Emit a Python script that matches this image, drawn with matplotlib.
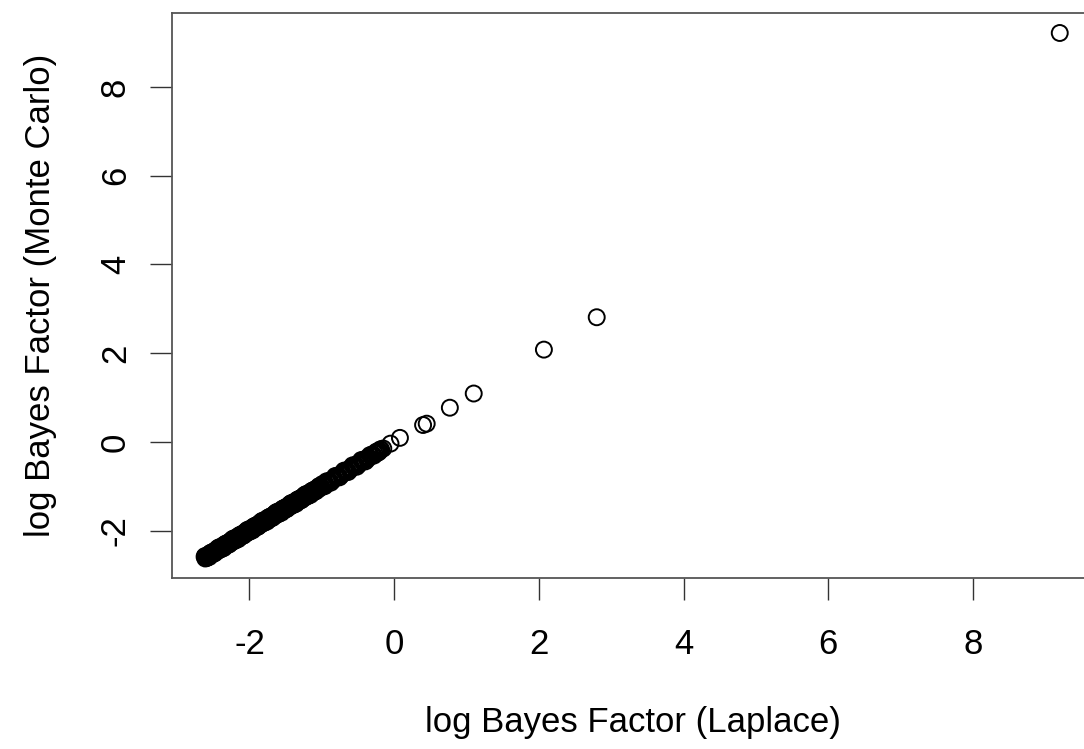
import matplotlib
matplotlib.use("Agg")
from matplotlib import pyplot as plt

plt.rcParams['font.family'] = ['Liberation Sans', 'DejaVu Sans']

# log Bayes factors (Laplace approx vs Monte Carlo)
laplace = [
    -2.62, -2.61, -2.60, -2.59, -2.58, -2.57, -2.56, -2.55, -2.54, -2.53,
    -2.52, -2.51, -2.50, -2.49, -2.48, -2.47, -2.46, -2.45, -2.44, -2.43,
    -2.42, -2.41, -2.40, -2.39, -2.38, -2.37, -2.36, -2.35, -2.34, -2.33,
    -2.32, -2.31, -2.30, -2.29, -2.28, -2.27, -2.26, -2.25, -2.24, -2.23,
    -2.22, -2.21, -2.20, -2.19, -2.18, -2.17, -2.16, -2.15, -2.14, -2.13,
    -2.12, -2.11, -2.10, -2.09, -2.08, -2.07, -2.06, -2.05, -2.04, -2.03,
    -2.02, -2.01, -2.00, -1.99, -1.98, -1.97, -1.96, -1.95, -1.94, -1.93,
    -1.92, -1.91, -1.90, -1.89, -1.88, -1.87, -1.86, -1.85, -1.84, -1.83,
    -1.82, -1.81, -1.80, -1.79, -1.78, -1.77, -1.76, -1.75, -1.74, -1.73,
    -1.72, -1.71, -1.70, -1.69, -1.68, -1.67, -1.66, -1.65, -1.64, -1.63,
    -1.62, -1.61, -1.60, -1.59, -1.58, -1.57, -1.56, -1.55, -1.54, -1.53,
    -1.52, -1.51, -1.50, -1.49, -1.48, -1.47, -1.46, -1.45, -1.44, -1.43,
    -1.42, -1.41, -1.40, -1.39, -1.38, -1.37, -1.36, -1.35, -1.34, -1.33,
    -1.32, -1.31, -1.30, -1.29, -1.28, -1.27, -1.26, -1.25, -1.24, -1.23,
    -1.22, -1.21, -1.20, -1.19, -1.18, -1.17, -1.16, -1.15, -1.14, -1.13,
    -1.12, -1.11, -1.10, -1.09, -1.08, -1.07, -1.06, -1.05, -1.04, -1.03,
    -2.615, -2.595, -2.575, -2.555, -2.535, -2.515, -2.495, -2.475, -2.455, -2.435,
    -2.415, -2.395, -2.375, -2.355, -2.335, -2.315, -2.295, -2.275, -2.255, -2.235,
    -2.215, -2.195, -2.175, -2.155, -2.135, -2.115, -2.095, -2.075, -2.055, -2.035,
    -2.015, -1.995, -1.975, -1.955, -1.935, -1.915, -1.895, -1.875, -1.855, -1.835,
    -1.815, -1.795, -1.775, -1.755, -1.735, -1.715, -1.695, -1.675, -1.655, -1.635,
    -1.615, -1.595, -1.575, -1.555, -1.535, -1.515, -1.495, -1.475, -1.455, -1.435,
    -1.415, -1.395, -1.375, -1.355, -1.335, -1.315, -1.295, -1.275, -1.255, -1.235,
    -1.215, -1.195, -1.175, -1.155, -1.135, -1.115, -1.095, -1.075, -1.055, -1.035,
    -1.02, -1.00, -0.98, -0.95, -0.92, -0.89, -0.86, -0.83, -0.80, -0.77,
    -0.74, -0.71, -0.68, -0.65, -0.62, -0.59, -0.56, -0.53, -0.50, -0.47,
    -0.44, -0.41, -0.38, -0.35, -0.32, -0.29, -0.27, -0.25, -0.22, -0.20,
    -0.965, -0.905, -0.845, -0.785, -0.725, -0.665, -0.605, -0.545, -0.485, -0.425,
    -0.365, -0.305, -0.235, -0.19,
    -0.99, -0.96, -0.935, -0.875, -0.815, -0.755, -0.695, -0.635, -0.575, -0.515,
    -0.455, -0.395, -0.335, -0.28, -0.245, -0.21,
    -0.18, -0.15, -0.05, 0.08, 0.40, 0.45, 0.77, 1.10, 2.07, 2.80,
    9.20,
]
montecarlo = [
    -2.59, -2.63, -2.59, -2.62, -2.56, -2.57, -2.57, -2.52, -2.56, -2.52,
    -2.49, -2.53, -2.49, -2.52, -2.46, -2.47, -2.47, -2.42, -2.46, -2.42,
    -2.39, -2.43, -2.39, -2.42, -2.36, -2.37, -2.37, -2.32, -2.36, -2.32,
    -2.29, -2.33, -2.29, -2.32, -2.26, -2.27, -2.27, -2.22, -2.26, -2.22,
    -2.19, -2.23, -2.19, -2.22, -2.16, -2.17, -2.17, -2.12, -2.16, -2.12,
    -2.09, -2.13, -2.09, -2.12, -2.06, -2.07, -2.07, -2.02, -2.06, -2.02,
    -1.99, -2.03, -1.99, -2.02, -1.96, -1.97, -1.97, -1.92, -1.96, -1.92,
    -1.89, -1.93, -1.89, -1.92, -1.86, -1.87, -1.87, -1.82, -1.86, -1.82,
    -1.79, -1.83, -1.79, -1.82, -1.76, -1.77, -1.77, -1.72, -1.76, -1.72,
    -1.69, -1.73, -1.69, -1.72, -1.66, -1.67, -1.67, -1.62, -1.66, -1.62,
    -1.59, -1.63, -1.59, -1.62, -1.56, -1.57, -1.57, -1.52, -1.56, -1.52,
    -1.49, -1.53, -1.49, -1.52, -1.46, -1.47, -1.47, -1.42, -1.46, -1.42,
    -1.39, -1.43, -1.39, -1.42, -1.36, -1.37, -1.37, -1.32, -1.36, -1.32,
    -1.29, -1.33, -1.29, -1.32, -1.26, -1.27, -1.27, -1.22, -1.26, -1.22,
    -1.19, -1.23, -1.19, -1.22, -1.16, -1.17, -1.17, -1.12, -1.16, -1.12,
    -1.09, -1.13, -1.09, -1.12, -1.06, -1.07, -1.07, -1.02, -1.06, -1.02,
    -2.575, -2.615, -2.565, -2.595, -2.505, -2.525, -2.475, -2.505, -2.455, -2.395,
    -2.375, -2.415, -2.365, -2.395, -2.305, -2.325, -2.275, -2.305, -2.255, -2.195,
    -2.175, -2.215, -2.165, -2.195, -2.105, -2.125, -2.075, -2.105, -2.055, -1.995,
    -1.975, -2.015, -1.965, -1.995, -1.905, -1.925, -1.875, -1.905, -1.855, -1.795,
    -1.775, -1.815, -1.765, -1.795, -1.705, -1.725, -1.675, -1.705, -1.655, -1.595,
    -1.575, -1.615, -1.565, -1.595, -1.505, -1.525, -1.475, -1.505, -1.455, -1.395,
    -1.375, -1.415, -1.365, -1.395, -1.305, -1.325, -1.275, -1.305, -1.255, -1.195,
    -1.175, -1.215, -1.165, -1.195, -1.105, -1.125, -1.075, -1.105, -1.055, -0.995,
    -1.00, -1.02, -0.96, -0.95, -0.90, -0.89, -0.85, -0.83, -0.79, -0.77,
    -0.73, -0.71, -0.67, -0.65, -0.61, -0.59, -0.55, -0.53, -0.49, -0.47,
    -0.43, -0.41, -0.37, -0.35, -0.31, -0.29, -0.26, -0.25, -0.21, -0.20,
    -0.985, -0.885, -0.865, -0.765, -0.745, -0.645, -0.625, -0.525, -0.505, -0.405,
    -0.385, -0.285, -0.255, -0.17,
    -0.95, -1.00, -0.89, -0.92, -0.77, -0.80, -0.65, -0.68, -0.53, -0.56,
    -0.41, -0.44, -0.30, -0.31, -0.22, -0.23,
    -0.17, -0.15, -0.04, 0.09, 0.38, 0.41, 0.77, 1.09, 2.08, 2.81,
    9.22,
]
ticks = [-2, 0, 2, 4, 6, 8]

fig = plt.figure(figsize=(10.84, 7.49), dpi=100)
# the original plot is cut off on the right, so the axes run past the edge
ax = fig.add_axes([0.1587, 0.2283, 0.8503, 0.7543])

ax.scatter(laplace, montecarlo, s=132, facecolors='none',
           edgecolors='black', linewidths=1.4)

ax.set_xlim(-3.07, 9.67)
ax.set_ylim(-3.07, 9.67)
ax.set_xticks(ticks)
ax.set_yticks(ticks)
ax.set_xticklabels([str(t) for t in ticks])
ax.set_yticklabels([str(t) for t in ticks], rotation=90, va='center')
ax.tick_params(length=16, width=1.0, labelsize=25, color='#333333')
ax.tick_params(axis='x', pad=20)
ax.tick_params(axis='y', pad=13)

for sp in ax.spines.values():
    sp.set_color('#555555')
    sp.set_linewidth(1.3)

ax.set_xlabel("log Bayes Factor (Laplace)", fontsize=25)
ax.xaxis.set_label_coords(0.5, -0.255)
ax.xaxis.label.set_va('center')
ax.set_ylabel("log Bayes Factor (Monte Carlo)", fontsize=25)
ax.yaxis.set_label_coords(-0.143, 0.5)
ax.yaxis.label.set_va('center')

plt.savefig("out.png", dpi=100)
